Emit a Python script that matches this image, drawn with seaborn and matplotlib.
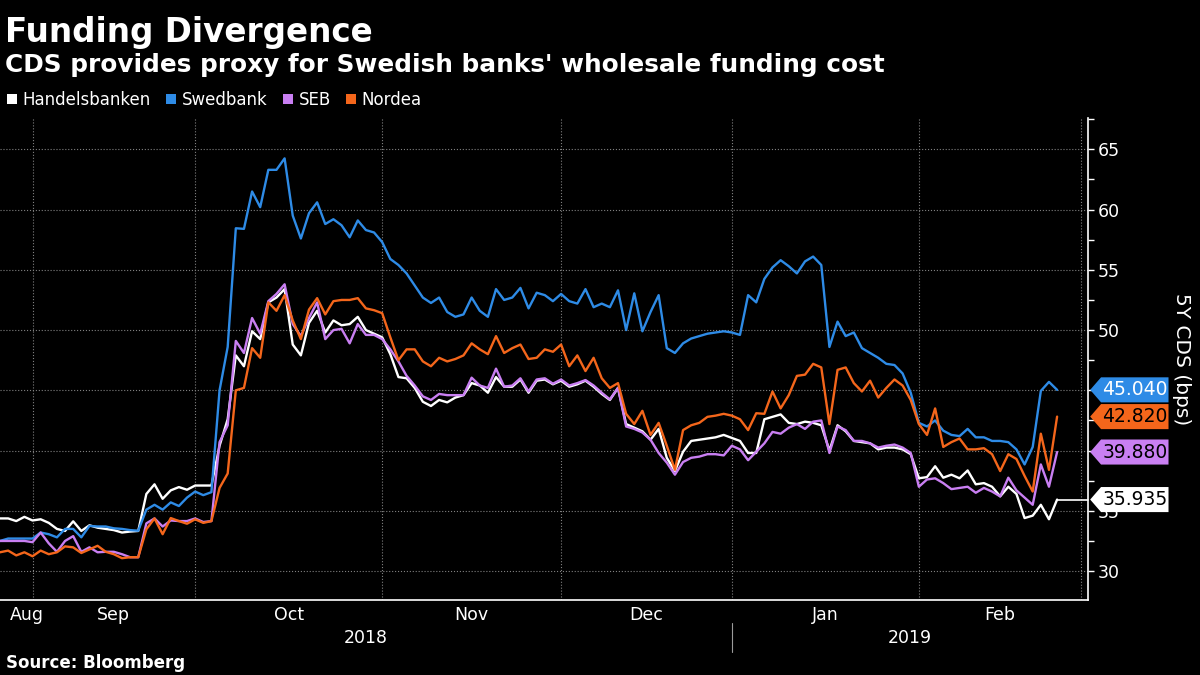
import matplotlib.pyplot as plt
import matplotlib.transforms as mtransforms
from matplotlib.patches import Polygon, Patch
from matplotlib.ticker import MultipleLocator
import seaborn as sns
import pandas as pd
import numpy as np

# business days shown on the chart (Aug 27, 2018 -> Feb 25, 2019)
dates = pd.bdate_range('2018-08-27', '2019-02-25')
axis_days = pd.bdate_range('2018-08-27', '2019-02-28')

banks = ['Handelsbanken', 'Swedbank', 'SEB', 'Nordea']
colors = ['#ffffff', '#2e8be6', '#c97ff2', '#f4661b']
text_colors = ['black', 'white', 'black', 'black']

handelsbanken = [
    34.37, 34.37, 34.15, 34.5, 34.2, 34.3, 34.0, 33.5, 33.33, 34.13,
    33.33, 33.8, 33.6, 33.5, 33.4, 33.2, 33.28, 33.33, 36.4, 37.2,
    36.0, 36.7, 36.97, 36.75, 37.1, 37.1, 37.1, 40.4, 42.6, 47.9,
    47.0, 49.9, 49.25, 52.3, 52.7, 53.4, 48.8, 47.9, 50.6, 51.6,
    49.8, 50.8, 50.4, 50.5, 51.1, 50.0, 49.7, 49.4, 48.0, 46.1,
    46.0, 45.2, 44.05, 43.7, 44.2, 44.0, 44.4, 44.6, 45.6, 45.4,
    44.8, 46.1, 45.3, 45.3, 45.9, 44.8, 45.8, 45.9, 45.5, 45.8,
    45.3, 45.5, 45.8, 45.3, 44.7, 44.2, 45.2, 42.2, 41.9, 41.6,
    40.9, 41.8, 39.4, 38.3, 39.9, 40.8, 40.9, 41.0, 41.1, 41.3,
    41.05, 40.8, 39.8, 39.8, 42.6, 42.8, 43.0, 42.3, 42.2, 42.4,
    42.3, 42.1, 40.0, 42.1, 41.6, 40.8, 40.7, 40.6, 40.1, 40.25,
    40.25, 40.1, 39.7, 37.7, 37.8, 38.7, 37.75, 38.0, 37.7, 38.35,
    37.2, 37.3, 37.0, 36.2, 37.0, 36.4, 34.4, 34.6, 35.5, 34.3,
    35.935]

swedbank = [
    32.5, 32.7, 32.7, 32.7, 32.7, 33.2, 33.06, 32.8, 33.5, 33.5,
    32.8, 33.75, 33.7, 33.7, 33.55, 33.5, 33.4, 33.35, 35.1, 35.5,
    35.1, 35.7, 35.4, 36.1, 36.6, 36.3, 36.55, 45.0, 48.6, 58.45,
    58.4, 61.5, 60.2, 63.3, 63.3, 64.25, 59.5, 57.6, 59.7, 60.6,
    58.8, 59.2, 58.7, 57.7, 59.1, 58.3, 58.1, 57.3, 55.9, 55.4,
    54.7, 53.7, 52.7, 52.25, 52.7, 51.5, 51.1, 51.3, 52.7, 51.6,
    51.1, 53.4, 52.5, 52.7, 53.5, 51.8, 53.1, 52.9, 52.4, 53.0,
    52.4, 52.2, 53.4, 51.9, 52.2, 51.9, 53.3, 50.0, 53.05, 49.9,
    51.5, 52.9, 48.5, 48.1, 48.9, 49.3, 49.5, 49.7, 49.8, 49.9,
    49.8, 49.6, 52.9, 52.3, 54.25, 55.2, 55.8, 55.3, 54.7, 55.7,
    56.1, 55.4, 48.6, 50.7, 49.5, 49.8, 48.5, 48.1, 47.7, 47.2,
    47.1, 46.4, 44.8, 42.3, 42.0, 42.5, 41.65, 41.3, 41.2, 41.8,
    41.1, 41.1, 40.8, 40.8, 40.7, 40.1, 38.85, 40.3, 44.95, 45.7,
    45.04]

seb = [
    32.5, 32.5, 32.5, 32.5, 32.4, 33.2, 32.3, 31.6, 32.5, 32.9,
    31.6, 31.97, 31.56, 31.6, 31.6, 31.4, 31.15, 31.15, 33.96, 34.37,
    33.7, 34.2, 34.15, 34.15, 34.37, 34.07, 34.15, 40.7, 42.1, 49.1,
    48.1, 51.0, 49.7, 52.4, 53.0, 53.8, 50.5, 49.5, 51.0, 52.3,
    49.25, 50.0, 50.1, 48.9, 50.5, 49.6, 49.6, 49.25, 48.4, 47.4,
    46.2, 45.4, 44.5, 44.2, 44.7, 44.6, 44.6, 44.6, 46.05, 45.4,
    45.2, 46.8, 45.3, 45.4, 46.0, 44.9, 45.9, 46.0, 45.55, 45.9,
    45.4, 45.6, 45.85, 45.4, 44.8, 44.25, 45.2, 42.0, 41.8, 41.5,
    40.9, 39.8, 39.0, 38.0, 39.05, 39.4, 39.5, 39.7, 39.7, 39.6,
    40.4, 40.1, 39.2, 39.9, 40.6, 41.55, 41.4, 41.9, 42.2, 41.8,
    42.4, 42.5, 39.8, 42.0, 41.7, 40.8, 40.8, 40.6, 40.25, 40.4,
    40.5, 40.25, 39.8, 37.0, 37.6, 37.7, 37.3, 36.8, 36.9, 37.0,
    36.5, 36.9, 36.6, 36.2, 37.75, 36.7, 36.1, 35.5, 38.85, 37.0,
    39.88]

nordea = [
    31.56, 31.7, 31.3, 31.56, 31.23, 31.7, 31.4, 31.56, 32.05, 31.97,
    31.5, 31.8, 32.1, 31.6, 31.4, 31.07, 31.15, 31.15, 33.47, 34.37,
    33.06, 34.4, 34.15, 33.93, 34.3, 34.0, 34.15, 36.9, 38.1, 45.0,
    45.2, 48.5, 47.7, 52.3, 51.6, 52.9, 50.8, 49.25, 51.7, 52.65,
    51.3, 52.4, 52.5, 52.5, 52.65, 51.8, 51.65, 51.4, 49.4, 47.5,
    48.4, 48.4, 47.4, 47.0, 47.7, 47.4, 47.6, 47.9, 48.9, 48.4,
    48.0, 49.5, 48.1, 48.5, 48.8, 47.6, 47.7, 48.4, 48.2, 48.8,
    47.0, 47.9, 46.6, 47.7, 46.0, 45.2, 45.6, 43.05, 42.2, 43.3,
    41.3, 42.3, 40.4, 38.4, 41.7, 42.1, 42.3, 42.8, 42.9, 43.05,
    42.9, 42.6, 41.7, 43.1, 43.05, 44.9, 43.5, 44.6, 46.2, 46.3,
    47.2, 46.9, 42.2, 46.7, 46.9, 45.6, 44.9, 45.8, 44.4, 45.2,
    45.9, 45.4, 44.2, 42.2, 41.3, 43.5, 40.3, 40.7, 41.0, 40.1,
    40.1, 40.2, 39.7, 38.3, 39.7, 39.3, 37.9, 36.6, 41.4, 38.4,
    42.82]

month_names = ['Aug', 'Sep', 'Oct', 'Nov', 'Dec', 'Jan', 'Feb']
years = ['2018', '2019']

# long-form table, x is the trading-day index
day = np.arange(len(dates))
wide = pd.DataFrame({'day': day, 'Handelsbanken': handelsbanken,
                     'Swedbank': swedbank, 'SEB': seb, 'Nordea': nordea})
df = wide.melt(id_vars='day', var_name='bank', value_name='cds')

# last trading day of each month -> gridlines
month_end = [i for i in range(len(axis_days))
             if i == len(axis_days) - 1 or axis_days[i].month != axis_days[i + 1].month]
month_mid = [(a + b) / 2 for a, b in zip(month_end[:-1], month_end[1:])]
month_mid = [month_end[0] - 0.7] + month_mid

sns.set_style('dark')
plt.rcParams['font.family'] = ['DejaVu Sans']

fig = plt.figure(figsize=(12, 6.75), dpi=100, facecolor='black')
ax = fig.add_axes([0, 1 - 600 / 675, 1088 / 1200, 482 / 675])
ax.set_facecolor('black')

sns.lineplot(data=df, x='day', y='cds', hue='bank', hue_order=banks,
             palette=dict(zip(banks, colors)), linewidth=1.7, legend=False, ax=ax)

x_max = 133.8
ax.set_xlim(0, x_max)
ax.set_ylim(27.6, 67.6)

# Handelsbanken last value connector to its tag
ax.plot([day[-1], x_max], [handelsbanken[-1]] * 2, color='white', lw=1.2,
        clip_on=False, zorder=4)

# axes styling
for side in ['left', 'top']:
    ax.spines[side].set_visible(False)
for side in ['right', 'bottom']:
    ax.spines[side].set_color('white')
    ax.spines[side].set_linewidth(1.2)

last_values = [handelsbanken[-1], swedbank[-1], seb[-1], nordea[-1]]

ax.yaxis.tick_right()
yticks = list(range(30, 70, 5))
ax.set_yticks(yticks)
# labels sitting fully under a value tag are hidden, as in the original
ax.set_yticklabels(['' if any(abs(t - v) < 0.9 for v in last_values) else str(t)
                    for t in yticks])
ax.yaxis.set_minor_locator(MultipleLocator(2.5))
ax.tick_params(axis='y', which='both', colors='white', length=4, width=1,
               direction='out', labelsize=12.5, pad=3)

ax.set_xticks(month_end)
ax.set_xticklabels([''] * len(month_end))
ax.set_xticks(month_mid, minor=True)
ax.set_xticklabels(month_names, minor=True)
ax.tick_params(axis='x', which='both', length=0, colors='white',
               labelsize=12.5, pad=4)
ax.set_xlabel('')
ax.set_ylabel('')

ax.grid(True, which='major', axis='both', color='#808080', linestyle=':', linewidth=0.8)

# year labels and separator
trans = mtransforms.blended_transform_factory(ax.transData, ax.transAxes)
ax.text(month_end[4] / 2, -0.079, years[0], transform=trans,
        ha='center', va='center', color='white', fontsize=12.5)
ax.text((month_end[4] + x_max) / 2, -0.079, years[1], transform=trans,
        ha='center', va='center', color='white', fontsize=12.5)
ax.plot([month_end[4]] * 2, [-0.048, -0.108], transform=trans, color='#9a9a9a',
        lw=0.8, clip_on=False)

# last value tags on the right axis
ytrans = ax.get_yaxis_transform()
half = 1.04
for v, c, tc in zip(last_values, colors, text_colors):
    pts = [(1.002, v), (1.012, v + half), (1.074, v + half),
           (1.074, v - half), (1.012, v - half)]
    ax.add_patch(Polygon(pts, closed=True, transform=ytrans, facecolor=c,
                         edgecolor='none', clip_on=False, zorder=6))
    ax.text(1.043, v, f'{v:.3f}', transform=ytrans, ha='center', va='center',
            color=tc, fontsize=13.5, zorder=7, clip_on=False)

fig.text(1182 / 1200, 1 - 359 / 675, '5Y CDS (bps)', rotation=270, color='white',
         fontsize=14.5, ha='center', va='center')

# titles, legend, source
fig.text(5 / 1200, 1 - 42 / 675, 'Funding Divergence', color='white',
         fontsize=23.5, fontweight='bold', va='baseline')
fig.text(5 / 1200, 1 - 72 / 675,
         "CDS provides proxy for Swedish banks' wholesale funding cost",
         color='white', fontsize=17.8, fontweight='bold', va='baseline')

handles = [Patch(facecolor=c, edgecolor='none', label=b) for b, c in zip(banks, colors)]
fig.legend(handles=handles, loc='center left', bbox_to_anchor=(7 / 1200, 1 - 100 / 675),
           ncol=4, frameon=False, fontsize=12, labelcolor='white',
           handlelength=0.6, handleheight=0.6, handletextpad=0.35,
           columnspacing=0.9, borderaxespad=0, borderpad=0)

fig.text(6 / 1200, 1 - 663 / 675, 'Source: Bloomberg', color='white',
         fontsize=12, fontweight='bold', va='center')

fig.savefig('out.png', dpi=100, facecolor='black')
